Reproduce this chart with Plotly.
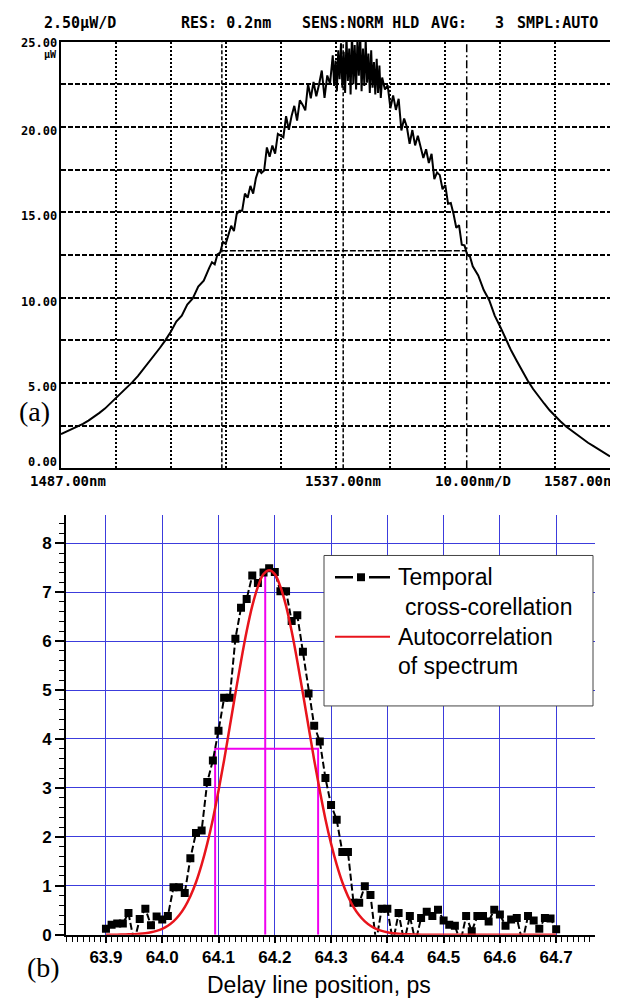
import plotly.graph_objects as go

W, H = 618, 1000

# ---------------- (a) optical spectrum (OSA screen) ----------------
wavelength_nm = [
    1487, 1488, 1489, 1490, 1491, 1492, 1493, 1494, 1495, 1496, 1497, 1498, 1499, 1500,
    1501, 1502, 1503, 1504, 1505, 1506, 1507, 1508, 1509, 1510, 1511, 1512, 1513, 1514,
    1514.5, 1515, 1515.5, 1516, 1516.5, 1517, 1517.5, 1518, 1518.5, 1519, 1519.5, 1520,
    1520.5, 1521, 1521.5, 1522, 1522.5, 1523, 1523.5, 1524, 1524.5, 1525, 1525.5, 1526,
    1526.5, 1527, 1527.5, 1528, 1528.5, 1529, 1529.5, 1530, 1530.5, 1531, 1531.5, 1532,
    1532.5, 1533, 1533.5, 1534, 1534.5, 1535, 1535.5, 1536,
    1536.5, 1536.75, 1537, 1537.25, 1537.5, 1537.75, 1538, 1538.25, 1538.5, 1538.75,
    1539, 1539.25, 1539.5, 1539.75, 1540, 1540.25, 1540.5, 1540.75, 1541, 1541.25,
    1541.5, 1541.75, 1542, 1542.25, 1542.5, 1542.75, 1543, 1543.25, 1543.5, 1543.75,
    1544, 1544.25, 1544.5, 1544.75, 1545, 1545.25, 1545.5,
    1546, 1546.5, 1547, 1547.5, 1548, 1548.5, 1549, 1549.5, 1550,
    1550.5, 1551, 1551.5, 1552, 1552.5, 1553, 1553.5, 1554, 1554.5, 1555, 1555.5, 1556,
    1556.5, 1557, 1557.5, 1558, 1558.5, 1559, 1559.5, 1560, 1560.5, 1561, 1561.5, 1562,
    1563, 1564, 1565, 1566, 1567, 1568, 1569, 1570, 1571, 1572, 1573, 1574, 1575, 1576,
    1577, 1578, 1579, 1580, 1581, 1582, 1583, 1584, 1585, 1586, 1587,
]
power_uW = [
    2.0, 2.15, 2.3, 2.45, 2.6, 2.8, 3.0, 3.25, 3.5, 3.8, 4.1, 4.4, 4.7, 5.05,
    5.4, 5.8, 6.2, 6.6, 7.05, 7.5, 8.0, 8.6, 8.95, 9.6, 9.95, 10.65, 11.0, 11.75,
    12.08, 11.96, 12.54, 12.64, 13.27, 13.15, 13.62, 14.21, 13.90, 14.90,
    15.10, 15.10, 16.10, 15.85, 16.55, 16.10, 17.00, 17.50, 17.30, 17.45,
    18.80, 18.26, 18.91, 18.44, 19.60, 19.50, 19.40, 20.63, 19.83, 20.64,
    21.24, 20.37, 21.56, 21.31, 20.97, 22.52, 21.68, 22.64, 21.80, 22.49,
    23.31, 21.70, 23.02, 22.54,
    24.2, 22.4, 23.9, 22.1, 24.5, 22.8, 24.9, 22.3, 24.4, 22.0,
    25.3, 22.7, 24.6, 21.9, 25.6, 22.5, 24.8, 22.2, 25.2, 23.0,
    25.4, 22.1, 24.6, 22.4, 25.1, 22.6, 24.3, 22.0, 24.5, 22.3,
    23.8, 21.9, 24.0, 22.0, 23.6, 21.7, 22.9,
    22.20, 22.45, 21.10, 21.85, 21.00, 21.65, 19.80, 20.50, 20.00,
    19.02, 19.82, 18.92, 19.49, 18.73, 18.18, 18.70, 17.89, 18.43, 16.94, 17.34, 17.18,
    16.35, 16.60, 15.50, 15.55, 14.90, 14.10, 14.25, 13.10, 13.06, 12.51, 12.40, 11.84,
    11.3, 10.45, 9.85, 8.95, 8.3, 7.55, 6.9, 6.3, 5.7, 5.15, 4.65, 4.2, 3.8, 3.4,
    3.05, 2.75, 2.45, 2.2, 1.95, 1.7, 1.5, 1.3, 1.1, 0.9, 0.7,
]
spec_marker_left_nm = 1516.3
spec_marker_peak_nm = 1538.4
spec_marker_right_nm = 1560.9
spec_half_level_uW = 12.75

osa_header_texts = ["2.50\u00b5W/D", "RES: 0.2nm", "SENS:NORM HLD", "AVG:", "3", "SMPL:AUTO"]
osa_ytick_values = [25, 20, 15, 10, 5, 0]
osa_ytick_texts = ["25.00", "20.00", "15.00", "10.00", "5.00", "0.00"]
osa_xlabel_texts = ["1487.00nm", "1537.00nm", "10.00nm/D", "1587.00nm"]

# ---------------- (b) cross-correlation ----------------
delay_ps = [
    63.90, 63.91, 63.92, 63.93, 63.94, 63.95, 63.96, 63.97, 63.98, 63.99,
    64.00, 64.01, 64.02, 64.03, 64.04, 64.05, 64.06, 64.07, 64.08, 64.09,
    64.10, 64.11, 64.12, 64.13, 64.14, 64.15, 64.16, 64.17, 64.18, 64.19,
    64.20, 64.21, 64.22, 64.23, 64.24, 64.25, 64.26, 64.27, 64.28, 64.29,
    64.30, 64.31, 64.32, 64.33, 64.34, 64.35, 64.36, 64.37, 64.38, 64.39,
    64.40, 64.41, 64.42, 64.43, 64.44, 64.45, 64.46, 64.47, 64.48, 64.49,
    64.50, 64.51, 64.52, 64.53, 64.54, 64.55, 64.56, 64.57, 64.58, 64.59,
    64.60, 64.61, 64.62, 64.63, 64.64, 64.65, 64.66, 64.67, 64.68, 64.69,
    64.70,
]
cross_corr = [
    0.12, 0.20, 0.23, 0.23, 0.44, -0.15, 0.32, 0.53, 0.19, 0.37,
    0.31, 0.38, 0.97, 0.97, 0.85, 1.56, 2.08, 2.13, 3.12, 3.56,
    4.17, 4.84, 4.84, 6.05, 6.68, 6.86, 7.34, 7.19, 7.40, 7.49,
    7.41, 7.02, 7.02, 6.41, 6.53, 5.78, 4.93, 4.27, 3.95, 3.20,
    2.65, 2.35, 1.69, 1.69, 0.65, 0.65, 0.99, 0.81, -0.15, 0.53,
    0.53, -0.15, 0.44, -0.15, 0.38, -0.15, 0.34, 0.47, 0.38, 0.51,
    0.29, 0.20, 0.18, -0.15, 0.38, 0.07, 0.38, 0.38, 0.27, 0.51,
    0.41, 0.18, 0.31, 0.34, -0.15, 0.38, 0.29, 0.12, 0.34, 0.33,
    0.11,
]
autocorr = [
    0.0, 0.0, 0.0, 0.003, 0.006, 0.010, 0.017, 0.029, 0.047, 0.076,
    0.118, 0.181, 0.270, 0.395, 0.563, 0.785, 1.07, 1.43, 1.86, 2.36,
    2.94, 3.57, 4.25, 4.93, 5.59, 6.20, 6.72, 7.11, 7.37, 7.45,
    7.37, 7.11, 6.72, 6.20, 5.59, 4.93, 4.25, 3.57, 2.94, 2.36,
    1.86, 1.43, 1.07, 0.785, 0.563, 0.395, 0.270, 0.181, 0.118, 0.076,
    0.047, 0.029, 0.017, 0.010, 0.006, 0.003, 0.0, 0.0, 0.0, 0.0,
    0.0, 0.0, 0.0, 0.0, 0.0, 0.0, 0.0, 0.0, 0.0, 0.0,
    0.0, 0.0, 0.0, 0.0, 0.0, 0.0, 0.0, 0.0, 0.0, 0.0,
    0.0,
]
fwhm_left_ps = 64.094
fwhm_right_ps = 64.277
fwhm_level = 3.8
peak_ps = 64.183
peak_level = 7.47

legend_lines = ["Temporal", "cross-corellation", "Autocorrelation", "of spectrum"]
xaxis_title_b = "Delay line position, ps"


# ---------------- helpers (pixel -> paper) ----------------
def px(x):
    return x / W


def py(y):
    return 1 - y / H


OSA_FONT = "DejaVu Sans Mono, Liberation Mono, monospace"
SANS = "Liberation Sans, Arial, sans-serif"
SERIF = "Liberation Serif, Times New Roman, serif"
BLUE = "#3c3cdc"
MAGENTA = "#f000f0"
RED = "#e8141c"

fig = go.Figure()

# (a) spectrum trace
fig.add_trace(go.Scatter(
    x=wavelength_nm, y=power_uW, mode="lines",
    line=dict(color="black", width=2),
    xaxis="x", yaxis="y", showlegend=False, hoverinfo="skip",
))

# (b) FWHM markers (magenta)
fig.add_trace(go.Scatter(
    x=[fwhm_left_ps, fwhm_left_ps, fwhm_right_ps, fwhm_right_ps, None, peak_ps, peak_ps],
    y=[0, fwhm_level, fwhm_level, 0, None, 0, peak_level],
    mode="lines", line=dict(color=MAGENTA, width=2),
    xaxis="x2", yaxis="y2", showlegend=False, hoverinfo="skip",
))
# (b) measured cross-correlation
fig.add_trace(go.Scatter(
    x=delay_ps, y=cross_corr, mode="lines+markers",
    line=dict(color="black", width=2, dash="7px,3px"),
    marker=dict(symbol="square", size=8, color="black"),
    xaxis="x2", yaxis="y2", showlegend=False, hoverinfo="skip",
))
# (b) autocorrelation of spectrum
fig.add_trace(go.Scatter(
    x=delay_ps, y=autocorr, mode="lines", line_shape="spline",
    line=dict(color=RED, width=2.5),
    xaxis="x2", yaxis="y2", showlegend=False, hoverinfo="skip",
))

shapes = []
# OSA markers
shapes.append(dict(type="line", xref="x", yref="y", x0=spec_marker_left_nm, x1=spec_marker_left_nm,
                   y0=0, y1=25, line=dict(color="black", width=1.5, dash="4px,2px")))
shapes.append(dict(type="line", xref="x", yref="y", x0=spec_marker_peak_nm, x1=spec_marker_peak_nm,
                   y0=0, y1=25, line=dict(color="black", width=1.5, dash="4px,2px")))
shapes.append(dict(type="line", xref="x", yref="y", x0=spec_marker_right_nm, x1=spec_marker_right_nm,
                   y0=0, y1=25, line=dict(color="black", width=1.5, dash="8px,3px,2px,3px")))
shapes.append(dict(type="line", xref="x", yref="y", x0=spec_marker_left_nm, x1=spec_marker_right_nm,
                   y0=spec_half_level_uW, y1=spec_half_level_uW,
                   line=dict(color="black", width=1.5, dash="6px,2px")))

# legend box for (b)
shapes.append(dict(type="rect", xref="paper", yref="paper", x0=px(316), x1=px(585), y0=py(705), y1=py(553),
                   fillcolor="white", line=dict(color="#444444", width=1), layer="above"))
shapes.append(dict(type="line", xref="paper", yref="paper", x0=px(327), x1=px(345), y0=py(575), y1=py(575),
                   line=dict(color="black", width=2.5), layer="above"))
shapes.append(dict(type="rect", xref="paper", yref="paper", x0=px(349), x1=px(357), y0=py(579), y1=py(571),
                   fillcolor="black", line=dict(color="black", width=0), layer="above"))
shapes.append(dict(type="line", xref="paper", yref="paper", x0=px(361), x1=px(382), y0=py(575), y1=py(575),
                   line=dict(color="black", width=2.5), layer="above"))
shapes.append(dict(type="line", xref="paper", yref="paper", x0=px(327), x1=px(382), y0=py(635), y1=py(635),
                   line=dict(color=RED, width=2), layer="above"))

annotations = []


def ann(text, x, y, size, family, xanchor="center", yanchor="middle", weight=None, **kw):
    f = dict(size=size, family=family, color="black")
    if weight:
        f["weight"] = weight
    annotations.append(dict(text=text, x=x, y=y, xref="paper", yref="paper", showarrow=False,
                            xanchor=xanchor, yanchor=yanchor, font=f, **kw))


# OSA header
for t, xc in zip(osa_header_texts, [72, 218, 352, 441, 491, 549]):
    ann(t, px(xc), py(15), 15, OSA_FONT, weight=700)
# OSA y labels
for v, t in zip(osa_ytick_values, osa_ytick_texts):
    shift = 6 if v == 0 else (-1 if v == 25 else -4)
    annotations.append(dict(text=t, x=px(51), y=v, xref="paper", yref="y", showarrow=False,
                            xanchor="right", yanchor="middle", yshift=shift,
                            font=dict(size=12, family=OSA_FONT, color="black", weight=700)))
ann("\u00b5W", px(51), py(47), 10, OSA_FONT, xanchor="right", weight=700)
# OSA x labels
for t, xc in zip(osa_xlabel_texts, [60, 335, 465, 574]):
    ann(t, px(xc), py(478), 14, OSA_FONT, weight=700)

# panel letters
ann("(a)", px(26), py(408), 28, SERIF)
ann("(b)", px(35), py(969), 28, SERIF)

# (b) x title
ann(xaxis_title_b, px(311), py(987), 23, SANS)

# legend texts
ann(legend_lines[0], px(388), py(575), 23, SANS, xanchor="left")
ann(legend_lines[1], px(395), py(605), 23, SANS, xanchor="left")
ann(legend_lines[2], px(388), py(635), 23, SANS, xanchor="left")
ann(legend_lines[3], px(388), py(665), 23, SANS, xanchor="left")

fig.update_layout(
    width=W, height=H, autosize=False,
    margin=dict(l=0, r=0, t=0, b=0),
    paper_bgcolor="white", plot_bgcolor="white",
    showlegend=False,
    shapes=shapes, annotations=annotations,
    xaxis=dict(
        domain=[px(53), px(602)], range=[1487, 1587], anchor="y",
        tickmode="linear", tick0=1487, dtick=10,
        showgrid=True, gridcolor="black", gridwidth=2, griddash="2px,2px",
        showticklabels=False, ticks="", zeroline=False,
        showline=True, mirror=True, linecolor="black", linewidth=2,
    ),
    yaxis=dict(
        domain=[py(465), py(34)], range=[0, 25], anchor="x",
        tickmode="linear", tick0=0, dtick=2.5,
        showgrid=True, gridcolor="black", gridwidth=1.5, griddash="5px,2px",
        showticklabels=False, ticks="", zeroline=False,
        showline=True, mirror=True, linecolor="black", linewidth=2,
    ),
    xaxis2=dict(
        domain=[px(58), px(587)], range=[63.829, 64.769], anchor="y2",
        tickmode="linear", tick0=63.9, dtick=0.1, tickformat=".1f",
        showgrid=True, gridcolor=BLUE, gridwidth=1, zeroline=False,
        showline=True, linecolor="black", linewidth=2,
        ticks="outside", ticklen=6, tickwidth=1.5, tickcolor="black",
        minor=dict(tick0=63.9, dtick=0.01, ticks="outside", ticklen=5, tickwidth=1,
                   tickcolor="black", showgrid=False),
        tickfont=dict(family=SANS, size=17, color="black", weight=700),
    ),
    yaxis2=dict(
        domain=[py(936), py(512)], range=[0, 8.58], anchor="x2",
        tickmode="linear", tick0=0, dtick=1,
        showgrid=True, gridcolor=BLUE, gridwidth=1, zeroline=False,
        showline=True, linecolor="black", linewidth=2,
        ticks="outside", ticklen=9, tickwidth=1.5, tickcolor="black",
        minor=dict(tick0=0, dtick=0.2, ticks="outside", ticklen=5, tickwidth=1,
                   tickcolor="black", showgrid=False),
        tickfont=dict(family=SANS, size=17, color="black", weight=700),
    ),
)

fig.write_html("out.html")
